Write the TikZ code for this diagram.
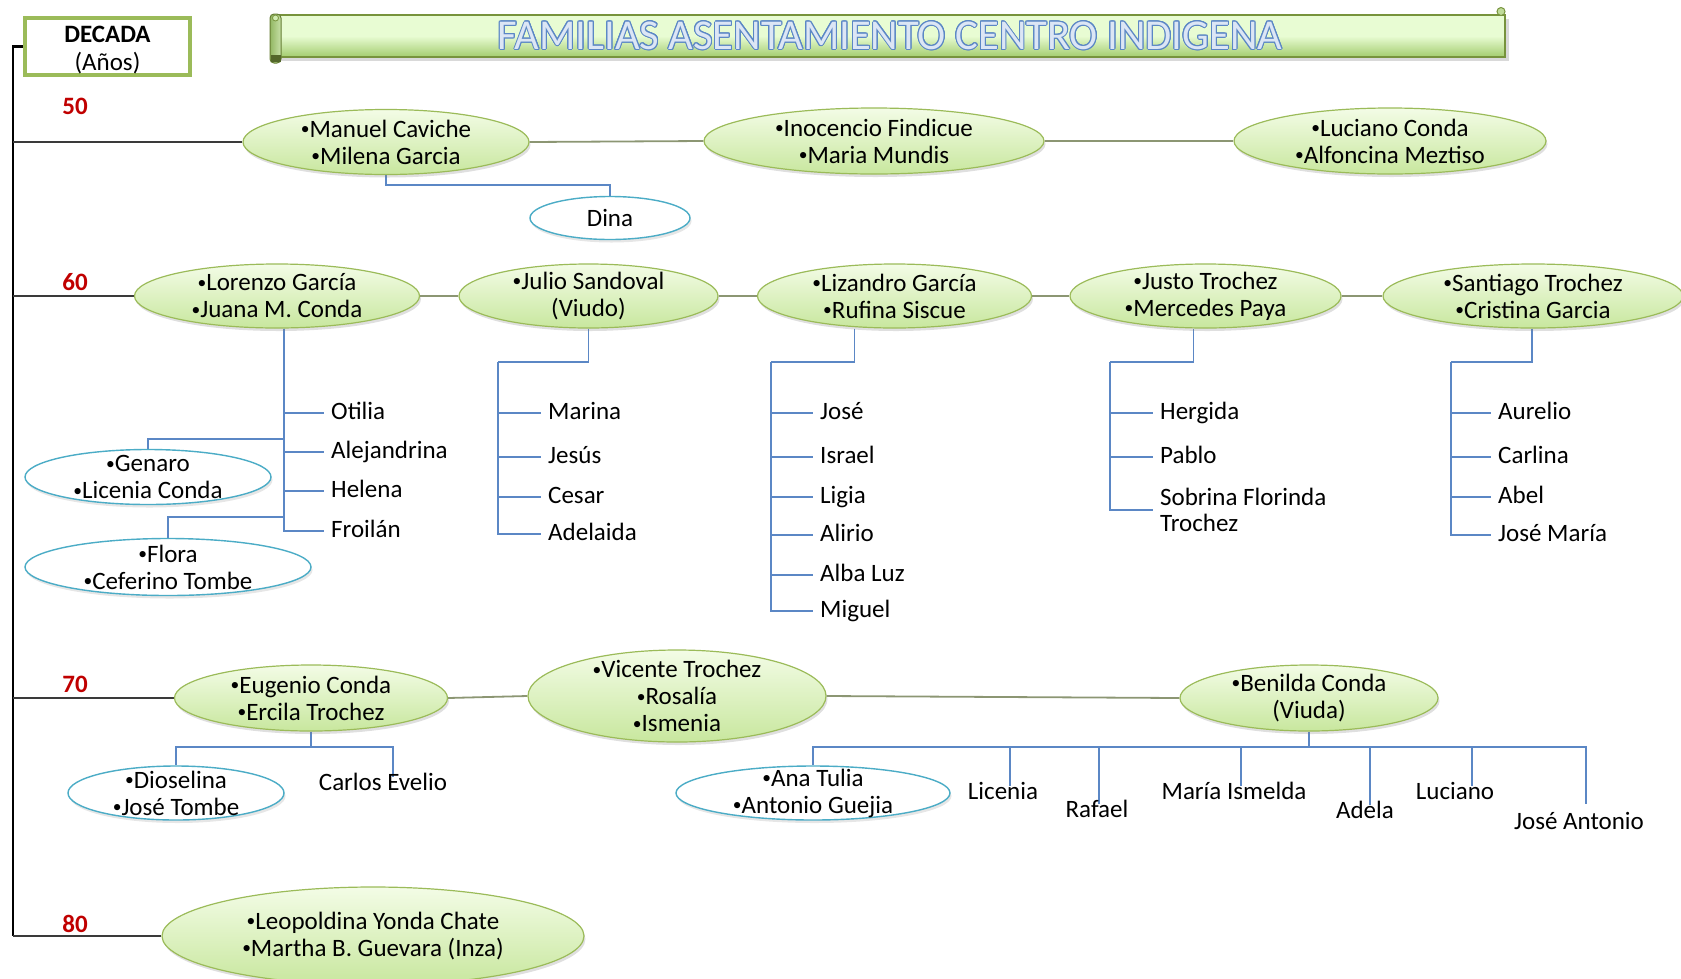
\documentclass[tikz,border=0pt]{standalone}
\usepackage{fontspec}
\setmainfont{Carlito}
\usepackage{graphicx}
\usepackage[copies]{contour}
\contourlength{1pt}
\usetikzlibrary{shapes.geometric,shadows,calc}
\definecolor{famtop}{HTML}{F3FCE6}
\definecolor{fambot}{HTML}{C8E79E}
\definecolor{famdraw}{HTML}{9BBB59}
\definecolor{kidblue}{HTML}{5B87C5}
\definecolor{ovblue}{HTML}{4BACC6}
\definecolor{linkcol}{HTML}{8C9673}
\definecolor{tlcol}{HTML}{3A3A3A}
\definecolor{decred}{HTML}{C00000}
\definecolor{boxgreen}{HTML}{9BBB59}
\definecolor{bantop}{HTML}{E8FCD3}
\definecolor{banbot}{HTML}{A3CC6E}
\definecolor{bandraw}{HTML}{77933C}
\definecolor{tfill}{HTML}{DCE6F5}
\definecolor{tline}{HTML}{5B87C5}
\newcommand\bu{\raisebox{0.1em}{\scalebox{0.7}{•}}}
\pgfdeclarelayer{bg}
\pgfsetlayers{bg,main}
\tikzset{
  fam/.style={ellipse, draw=famdraw, line width=1.2pt, top color=famtop, bottom color=fambot,
    inner sep=0pt, drop shadow={opacity=0.25, shadow xshift=1.5pt, shadow yshift=-3pt}},
  couple/.style={ellipse, draw=ovblue, line width=1.4pt, fill=white, inner sep=0pt,
    drop shadow={opacity=0.2, shadow xshift=1.5pt, shadow yshift=-3pt}},
  famtxt/.style={align=center, inner sep=0pt, text=black, font=\fontsize{25}{27}\selectfont},
  kid/.style={inner xsep=7pt, inner ysep=0pt, text=black, font=\fontsize{25}{27}\selectfont,
    text height=1.4em, text depth=0.06em},
  kidw/.style={kid, anchor=west},
  kline/.style={draw=kidblue, line width=1.5pt},
  link/.style={draw=linkcol, line width=1.8pt},
  tl/.style={draw=black, line width=2.6pt},
  tlh/.style={draw=tlcol, line width=1.8pt},
  dec/.style={text=decred, font=\bfseries\fontsize{25}{27}\selectfont, inner sep=0pt},
}
\newcommand\famnode[6]{%
  \node[fam, minimum width=#4pt, minimum height=#5pt] (#1) at (#2,#3) {};
  \node[famtxt] (#1-t) at (#1) {#6};}
\newcommand\cplnode[6]{%
  \node[couple, minimum width=#4pt, minimum height=#5pt] (#1) at (#2,#3) {};
  \node[famtxt] (#1-t) at (#1) {#6};}
\begin{document}
\begin{tikzpicture}[x=1pt, y=-1pt]
\useasboundingbox (0,0) rectangle (1681,978);

% ---------- title banner ----------
\fill[black, opacity=0.15] (280,19) rectangle (1509,61);
\path[draw=bandraw, line width=1.2pt, shading=axis, top color=bantop, bottom color=banbot, middle color=bantop]
  (276,15) rectangle (1505,57);
\path[draw=bandraw!85!black, line width=1pt, left color=banbot!90!black, right color=banbot!60!white, rounded corners=4pt]
  (270,14) rectangle (281,63);
\fill[bandraw!70!black] (270.5,55) rectangle (280.5,62);
\draw[bandraw, line width=0.8pt, fill=bantop!70!banbot] (275.5,18) circle (3);
\draw[bandraw, line width=1pt, fill=banbot!70!white] (1501,11.5) circle (4);
\node[inner sep=0pt, font=\fontsize{42.5}{44}\selectfont] (title) at (890,36)
  {\contour{tline}{\textcolor{tfill}{FAMILIAS ASENTAMIENTO CENTRO INDIGENA}}};

% ---------- decade box ----------
\node[draw=boxgreen, line width=3.5pt, fill=white, minimum width=165pt, minimum height=57pt,
  inner sep=0pt] (deca) at (107.5,46.5) {};
\node[inner sep=0pt, align=center, font=\fontsize{25}{28}\selectfont] (deca-t) at (107.5,50.5)
  {\textbf{DECADA}\\(Años)};

\node[dec] (d50) at (75,106) {50};
\node[dec] (d60) at (75,282) {60};
\node[dec] (d70) at (75,684) {70};
\node[dec] (d80) at (75,924) {80};

\coordinate (t50) at (13,142);
\coordinate (t60) at (13,296);
\coordinate (t70) at (13,698);
\coordinate (t80) at (13,936);

% ---------- 50 ----------
\famnode{man}{386}{142}{286}{65}{\bu Manuel Caviche\\\bu Milena Garcia}
\famnode{ino}{874}{141}{340}{66}{\bu Inocencio Findicue\\\bu Maria Mundis}
\famnode{luc}{1390}{141}{312}{66}{\bu Luciano Conda\\\bu Alfoncina Meztiso}
\cplnode{dina}{610}{218}{160}{43}{Dina}

% ---------- 60 ----------
\famnode{lor}{277}{296}{285}{64}{\bu Lorenzo García\\\bu Juana M. Conda}
\famnode{jul}{588.5}{296}{259}{64}{\bu Julio Sandoval\\(Viudo)}
\famnode{liz}{894.5}{296}{274}{64}{\bu Lizandro García\\\bu Rufina Siscue}
\famnode{jus}{1205.5}{296}{271}{64}{\bu Justo Trochez\\\bu Mercedes Paya}
\famnode{san}{1533}{296}{300}{64}{\bu Santiago Trochez\\\bu Cristina Garcia}

\cplnode{gen}{148}{477}{246}{55}{\bu Genaro\\\bu Licenia Conda}
\cplnode{flo}{168}{567}{286}{57}{\bu Flora\\\bu Ceferino Tombe}

\node[kidw] (oti) at (324,413) {Otilia};
\node[kidw] (ale) at (324,452) {Alejandrina};
\node[kidw] (hel) at (324,491) {Helena};
\node[kidw] (fro) at (324,531) {Froilán};

\node[kidw] (mar) at (541,413) {Marina};
\node[kidw] (jes) at (541,457) {Jesús};
\node[kidw] (ces) at (541,497) {Cesar};
\node[kidw] (ade) at (541,534) {Adelaida};

\node[kidw] (jos) at (813,413) {José};
\node[kidw] (isr) at (813,457) {Israel};
\node[kidw] (lig) at (813,497) {Ligia};
\node[kidw] (ali) at (813,535) {Alirio};
\node[kidw] (alb) at (813,575) {Alba Luz};
\node[kidw] (mig) at (813,611) {Miguel};

\node[kidw] (her) at (1153,413) {Hergida};
\node[kidw] (pab) at (1153,457) {Pablo};
\node[anchor=west, inner xsep=7pt, inner ysep=0pt, align=left, text=black,
  font=\fontsize{25}{26}\selectfont] (sob) at (1153,510) {Sobrina Florinda\\Trochez};

\node[kidw] (aur) at (1491,413) {Aurelio};
\node[kidw] (car) at (1491,457) {Carlina};
\node[kidw] (abe) at (1491,497) {Abel};
\node[kidw] (jma) at (1491,535) {José María};

% ---------- 70 ----------
\famnode{eug}{311}{698}{273}{66}{\bu Eugenio Conda\\\bu Ercila Trochez}
\famnode{vic}{677}{696}{298}{92}{\bu Vicente Trochez\\\bu Rosalía\\\bu Ismenia}
\famnode{ben}{1309}{698}{258}{66}{\bu Benilda Conda\\(Viuda)}
\cplnode{dio}{176}{793}{216}{54}{\bu Dioselina\\\bu José Tombe}
\cplnode{ana}{813}{793}{274}{54}{\bu Ana Tulia\\\bu Antonio Guejia}
\node[kid] (cev) at (383,784) {Carlos Evelio};
\node[kid] (lic) at (1003,793) {Licenia};
\node[kid] (raf) at (1097,811) {Rafael};
\node[kid] (mis) at (1234,793) {María Ismelda};
\node[kid] (adl) at (1365,812) {Adela};
\node[kid] (lcn) at (1455,793) {Luciano};
\node[kid] (jan) at (1579,823) {José Antonio};

% ---------- 80 ----------
\famnode{leo}{373}{936}{422}{98}{\bu Leopoldina Yonda Chate\\\bu Martha B. Guevara (Inza)}

% ---------- connectors ----------
\begin{pgfonlayer}{bg}
  \draw[tl] (deca.west) -| (t80);
  \draw[tlh] (t50) -- (man.west);
  \draw[tlh] (t60) -- (lor.west);
  \draw[tlh] (t70) -- (eug.west);
  \draw[tlh] (t80) -- (leo.west);

  \draw[link] (man.east) -- (ino.west);
  \draw[link] (ino.east) -- (luc.west);
  \draw[link] (lor.east) -- (jul.west);
  \draw[link] (jul.east) -- (liz.west);
  \draw[link] (liz.east) -- (jus.west);
  \draw[link] (jus.east) -- (san.west);
  \draw[link] (eug.east) -- (vic.west);
  \draw[link] (vic.east) -- (ben.west);

  % 50
  \draw[kline] (man.south) -- ++(0,10) -| (dina.north);

  % 60 Lorenzo
  \foreach \k in {oti,ale,hel,fro} \draw[kline] ([xshift=7pt]lor.south) |- (\k.west);
  \coordinate (genj) at (284,439);
  \coordinate (floj) at (284,517);
  \draw[kline] (genj) -| (gen.north);
  \draw[kline] (floj) -| (flo.north);

  % Julio
  \coordinate (julj) at (498,362);
  \draw[kline] (jul.south) |- (julj);
  \foreach \k in {mar,jes,ces,ade} \draw[kline] (julj) |- (\k.west);

  % Lizandro
  \coordinate (lizj) at (771,362);
  \draw[kline] ([xshift=-40pt]liz.south) |- (lizj);
  \foreach \k in {jos,isr,lig,ali,alb,mig} \draw[kline] (lizj) |- (\k.west);

  % Justo
  \coordinate (jusj) at (1110,362);
  \draw[kline] ([xshift=-12pt]jus.south) |- (jusj);
  \foreach \k in {her,pab,sob} \draw[kline] (jusj) |- (\k.west);

  % Santiago
  \coordinate (sanj) at (1451,362);
  \draw[kline] ([xshift=-1pt]san.south) |- (sanj);
  \foreach \k in {aur,car,abe,jma} \draw[kline] (sanj) |- (\k.west);

  % 70 Eugenio
  \coordinate (eugj) at (311,747);
  \draw[kline] (eug.south) -- (eugj);
  \draw[kline] (eugj) -| (dio.north);
  \draw[kline] (eugj) -| ([xshift=10pt]cev.north);

  % Benilda
  \coordinate (benj) at (1309,747);
  \draw[kline] (ben.south) -- (benj);
  \draw[kline] (benj) -| (ana.north);
  \draw[kline] (benj) -| ([xshift=7pt]lic.north);
  \draw[kline] (benj) -| ([xshift=2pt]raf.north);
  \draw[kline] (benj) -| ([xshift=7pt]mis.north);
  \draw[kline] (benj) -| ([xshift=5pt]adl.north);
  \draw[kline] (benj) -| ([xshift=17pt]lcn.north);
  \draw[kline] (benj) -| ([xshift=7pt,yshift=12pt]jan.north);
\end{pgfonlayer}
\end{tikzpicture}
\end{document}
